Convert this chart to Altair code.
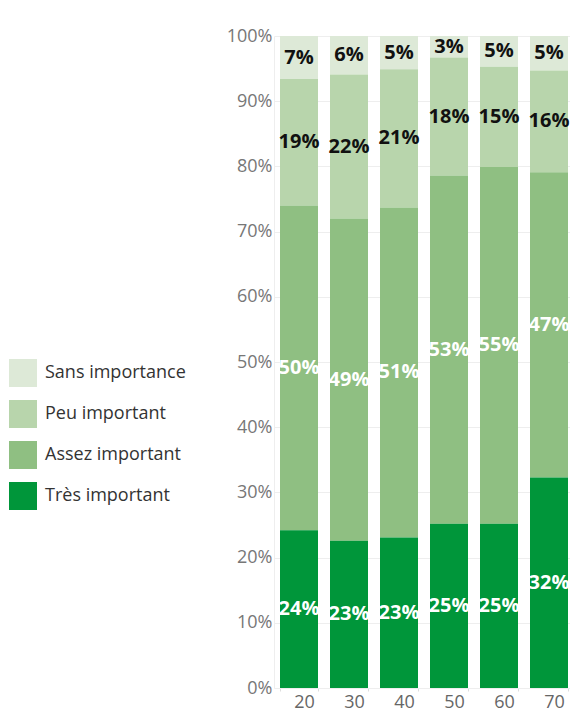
import altair as alt
import pandas as pd

ages = ["20", "30", "40", "50", "60", "70"]
categories = ["Sans importance", "Peu important", "Assez important", "Très important"]
colors = ["#dde9d7", "#b8d5ac", "#8fbf82", "#00963a"]
label_colors = ["#111111", "#111111", "#ffffff", "#ffffff"]

tres = [24.2, 22.6, 23.1, 25.2, 25.2, 32.3]
assez = [49.8, 49.4, 50.6, 53.4, 54.7, 46.8]
peu = [19.4, 22.1, 21.2, 18.1, 15.4, 15.6]
sans = [6.6, 5.9, 5.1, 3.3, 4.7, 5.3]

series = {
    "Sans importance": sans,
    "Peu important": peu,
    "Assez important": assez,
    "Très important": tres,
}
ranks = {"Très important": 0, "Assez important": 1, "Peu important": 2, "Sans importance": 3}

rows = []
for ci, cat in enumerate(categories):
    for ai, age in enumerate(ages):
        rows.append({
            "age": age,
            "cat": cat,
            "value": series[cat][ai],
            "rank": ranks[cat],
            "tc": label_colors[ci],
        })
df = pd.DataFrame(rows)

FONT = "Open Sans"

base = alt.Chart(df)

x_enc = alt.X(
    "age:N",
    sort=ages,
    scale=alt.Scale(range=[0, 300], paddingInner=0.24, paddingOuter=0.12),
    axis=alt.Axis(
        title=None, labelAngle=0, labelFontSize=18, labelColor="#666666",
        labelFont=FONT, labelPadding=2, labelOffset=5, tickBand="extent",
        tickColor="#dddddd", tickSize=3, domainColor="#eeeeee",
    ),
)

bars = base.mark_bar().encode(
    x=x_enc,
    y=alt.Y(
        "value:Q", stack="normalize", scale=alt.Scale(domain=[0, 1]),
        axis=alt.Axis(
            title=None, format="%", values=[i / 10 for i in range(11)],
            labelFontSize=18, labelColor="#777777", labelFont=FONT,
            ticks=False, labelPadding=2, domainColor="#eeeeee",
            gridColor="#eeeeee",
        ),
    ),
    color=alt.Color(
        "cat:N",
        scale=alt.Scale(domain=categories, range=colors),
        legend=alt.Legend(
            title=None, orient="none", legendX=-265, legendY=323,
            symbolType="square", symbolSize=784, symbolStrokeWidth=0,
            symbolOpacity=1, labelFontSize=18, labelColor="#333333",
            labelFont=FONT, rowPadding=13, labelOffset=8,
        ),
    ),
    order=alt.Order("rank:Q", sort="ascending"),
)

labels = base.transform_stack(
    stack="value", as_=["y0", "y1"], groupby=["age"],
    sort=[alt.SortField("rank", order="ascending")], offset="normalize",
).transform_calculate(
    mid="(datum.y0 + datum.y1) / 2", frac="datum.y1 - datum.y0"
).mark_text(
    font=FONT, fontWeight="bold", fontSize=20, baseline="middle", align="center"
).encode(
    x=alt.X("age:N", sort=ages),
    y=alt.Y("mid:Q"),
    text=alt.Text("frac:Q", format=".0%"),
    color=alt.Color("tc:N", scale=None),
)

chart = alt.layer(bars, labels).properties(
    width=296, height=652,
    autosize=alt.AutoSizeParams(type="none"),
    padding={"left": 266, "top": 28, "right": 0, "bottom": 25},
).configure_view(strokeWidth=0)

chart.save("out.html", embed_options={"renderer": "svg", "actions": False})
